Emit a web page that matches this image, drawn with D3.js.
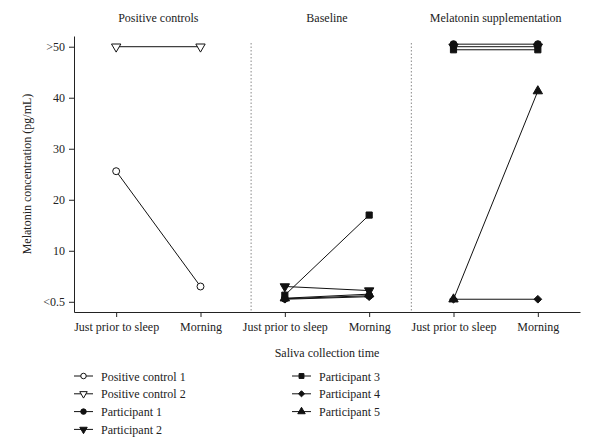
<!DOCTYPE html>
<html>
<head>
<meta charset="utf-8">
<script src="https://cdn.jsdelivr.net/npm/d3@7"></script>
<style>
  body { margin: 0; background: #fff; }
  svg text { font-family: "Liberation Serif", "DejaVu Serif", serif; fill: #222; }
  .axis text { font-size: 12px; }
  .axis path, .axis line { stroke: #222; }
</style>
</head>
<body>
<svg width="600" height="440"></svg>
<script>
// categories along the x axis (two per panel)
const xLabels = ["Just prior to sleep", "Morning", "Just prior to sleep", "Morning", "Just prior to sleep", "Morning"];
const panelTitles = ["Positive controls", "Baseline", "Melatonin supplementation"];
const dividers = [1.6, 3.5];

const yTicks = [0, 10, 20, 30, 40, 50];
const yTickLabels = ["<0.5", "10", "20", "30", "40", ">50"];

// values per series: [just prior, morning] for each panel the series appears in
const positiveControl1 = [[25.6, 3.0]];
const positiveControl2 = [[50, 50]];
const participant1 = [[0.6, 1.2], [50.5, 50.5]];
const participant2 = [[3.0, 2.2], [50.0, 50.0]];
const participant3 = [[1.3, 17.0], [49.4, 49.4]];
const participant4 = [[0.5, 1.0], [0.5, 0.5]];
const participant5 = [[0.7, 1.5], [0.5, 41.3]];

const series = [
  { name: "Positive control 1", panels: [0], values: positiveControl1, symbol: d3.symbolCircle, fill: "#fff", rot: 0 },
  { name: "Positive control 2", panels: [0], values: positiveControl2, symbol: d3.symbolTriangle, fill: "#fff", rot: 180 },
  { name: "Participant 1", panels: [1, 2], values: participant1, symbol: d3.symbolCircle, fill: "#111", rot: 0 },
  { name: "Participant 2", panels: [1, 2], values: participant2, symbol: d3.symbolTriangle, fill: "#111", rot: 180 },
  { name: "Participant 3", panels: [1, 2], values: participant3, symbol: d3.symbolSquare, fill: "#111", rot: 0 },
  { name: "Participant 4", panels: [1, 2], values: participant4, symbol: d3.symbolDiamond2, fill: "#111", rot: 0 },
  { name: "Participant 5", panels: [1, 2], values: participant5, symbol: d3.symbolTriangle, fill: "#111", rot: 0 }
];

const svg = d3.select("svg");

const x = d3.scaleLinear().domain([-0.5, 5.5]).range([74, 580]);
const y = d3.scaleLinear().domain([-2, 52.1]).range([312, 36]);

const xAxis = d3.axisBottom(x)
  .tickValues(d3.range(xLabels.length))
  .tickFormat(i => xLabels[i])
  .tickSize(5).tickSizeOuter(0).tickPadding(5);

const yAxis = d3.axisLeft(y)
  .tickValues(yTicks)
  .tickFormat((d, i) => yTickLabels[i])
  .tickSize(5).tickSizeOuter(0).tickPadding(4);

svg.append("g").attr("class", "axis")
  .attr("transform", `translate(0,${y.range()[0]})`)
  .call(xAxis);

svg.append("g").attr("class", "axis")
  .attr("transform", `translate(${x.range()[0]},0)`)
  .call(yAxis);

svg.selectAll(".divider").data(dividers).join("line")
  .attr("class", "divider")
  .attr("x1", d => x(d)).attr("x2", d => x(d))
  .attr("y1", 43).attr("y2", y.range()[0])
  .attr("stroke", "#888").attr("stroke-width", 1)
  .attr("stroke-dasharray", "1.5,2");

svg.selectAll(".panel-title").data(panelTitles).join("text")
  .attr("class", "panel-title")
  .attr("x", (d, i) => x(i * 2 + 0.5))
  .attr("y", 22)
  .attr("text-anchor", "middle")
  .attr("font-size", 12)
  .text(d => d);

svg.append("text")
  .attr("transform", "rotate(-90)")
  .attr("x", -(y.range()[0] + y.range()[1]) / 2)
  .attr("y", 31)
  .attr("text-anchor", "middle")
  .attr("font-size", 12)
  .text("Melatonin concentration (pg/mL)");

svg.append("text")
  .attr("x", (x.range()[0] + x.range()[1]) / 2)
  .attr("y", 357)
  .attr("text-anchor", "middle")
  .attr("font-size", 12)
  .text("Saliva collection time");

const line = d3.line().x(d => x(d.i)).y(d => y(d.v));
const sym = d3.symbol().size(38);

series.forEach(s => {
  s.panels.forEach((p, k) => {
    const pts = s.values[k].map((v, j) => ({ i: p * 2 + j, v }));
    svg.append("path")
      .attr("d", line(pts))
      .attr("fill", "none")
      .attr("stroke", "#111")
      .attr("stroke-width", 1);
    svg.selectAll(null).data(pts).join("path")
      .attr("transform", d => `translate(${x(d.i)},${y(d.v)}) rotate(${s.rot})`)
      .attr("d", sym.type(s.symbol)())
      .attr("fill", s.fill)
      .attr("stroke", "#111")
      .attr("stroke-width", 1);
  });
});

// legend, two columns
const legendCols = [{ x: 74, items: series.slice(0, 4) }, { x: 292, items: series.slice(4) }];
legendCols.forEach(col => {
  const g = svg.append("g").attr("transform", `translate(${col.x},376)`);
  col.items.forEach((s, i) => {
    const row = g.append("g").attr("transform", `translate(0,${i * 17.8})`);
    row.append("line").attr("x1", 0).attr("x2", 19).attr("y1", 0).attr("y2", 0)
      .attr("stroke", "#111").attr("stroke-width", 1);
    row.append("path")
      .attr("transform", `translate(9.5,0) rotate(${s.rot})`)
      .attr("d", d3.symbol().size(24).type(s.symbol)())
      .attr("fill", s.fill).attr("stroke", "#111").attr("stroke-width", 1);
    row.append("text").attr("x", 27).attr("y", 4.5)
      .attr("font-size", 12)
      .text(s.name);
  });
});
</script>
</body>
</html>
